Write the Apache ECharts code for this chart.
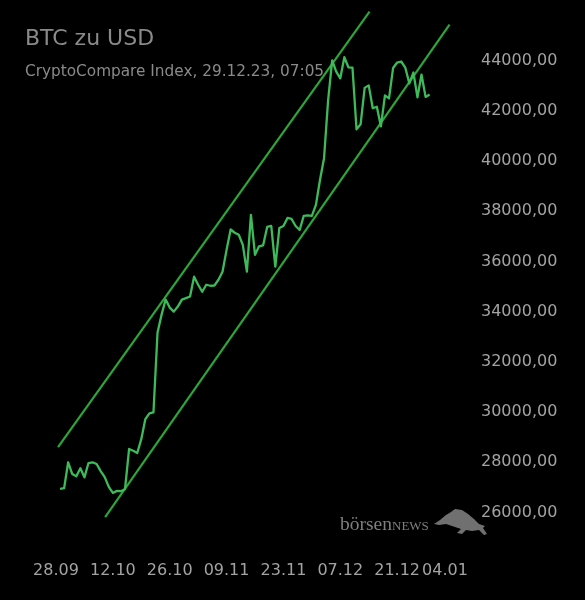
<!DOCTYPE html>
<html>
<head>
<meta charset="utf-8">
<script src="https://cdn.jsdelivr.net/npm/echarts@6/dist/echarts.min.js"></script>
<style>
  html, body { margin: 0; padding: 0; background: #000; }
  #chart { width: 585px; height: 600px; }
</style>
</head>
<body>
<div id="chart"></div>
<script>
// tick labels of the x axis (every 14 days from 28.09)
const xLabels = ['28.09', '12.10', '26.10', '09.11', '23.11', '07.12', '21.12', '04.01']

// daily closes, 29.09.23 .. 29.12.23 (day 1 .. 92 counted from 28.09)
const prices = [
  26940, 26970, 28000, 27530, 27440, 27760, 27400, 27970, 28000, 27930,
  27650, 27410, 27020, 26780, 26860, 26850, 26940, 28530, 28460, 28370,
  28920, 29720, 29950, 29990, 33170, 33880, 34480, 34160, 34000, 34200,
  34480, 34540, 34600, 35390, 35070, 34790, 35070, 35030, 35040, 35270,
  35590, 36460, 37270, 37140, 37060, 36660, 35590, 37850, 36260, 36600,
  36640, 37370, 37410, 35790, 37330, 37410, 37730, 37690, 37410, 37250,
  37810, 37830, 37810, 38250, 39240, 40110, 42410, 44000, 43560, 43290,
  44130, 43730, 43720, 41260, 41460, 42910, 43010, 42100, 42160, 41380,
  42610, 42490, 43700, 43920, 43960, 43720, 43090, 43520, 42530, 43440,
  42550, 42650
]

// trend channel, [day, value]
const upperChannel = [[0.5, 28600], [77.2, 45950]]
const lowerChannel = [[12.1, 25820], [96.9, 45430]]

const priceData = prices.map((v, i) => [i + 1, v])

const fontFamily = '"DejaVu Sans", sans-serif'
const chart = echarts.init(document.getElementById('chart'))

chart.setOption({
  backgroundColor: '#000',
  animation: false,
  title: [
    {
      text: 'BTC zu USD',
      left: 25,
      top: 28,
      padding: 0,
      textStyle: { color: '#8a8a8a', fontSize: 22, fontWeight: 'normal', fontFamily: fontFamily }
    },
    {
      text: 'CryptoCompare Index, 29.12.23, 07:05',
      left: 25,
      top: 65,
      padding: 0,
      textStyle: { color: '#8a8a8a', fontSize: 15.3, fontWeight: 'normal', fontFamily: fontFamily }
    }
  ],
  grid: {
    left: 56,
    right: 131,
    top: 60.5,
    bottom: 87.5
  },
  xAxis: {
    type: 'value',
    min: 0,
    max: 98,
    interval: 14,
    axisLine: { show: false },
    axisTick: { show: false },
    splitLine: { show: false },
    axisLabel: {
      color: '#a3a3a3',
      fontSize: 16,
      fontFamily: fontFamily,
      margin: 50,
      formatter: function (v) {
        const label = xLabels[Math.round(v / 14)]
        return v === 98 ? '{e|' + label + '}' : label
      },
      rich: {
        e: { color: '#a3a3a3', fontSize: 16, fontFamily: fontFamily, padding: [0, 18, 0, 0] }
      }
    }
  },
  yAxis: {
    type: 'value',
    position: 'right',
    min: 26000,
    max: 44000,
    interval: 2000,
    axisLine: { show: false },
    axisTick: { show: false },
    splitLine: { show: false },
    axisLabel: {
      color: '#a3a3a3',
      fontSize: 16,
      fontFamily: fontFamily,
      margin: 27,
      formatter: v => v + ',00'
    }
  },
  graphic: [
    {
      type: 'text',
      x: 340,
      y: 515,
      style: {
        text: '{a|börsen}{b|NEWS}',
        rich: {
          a: { fontFamily: '"Liberation Serif", serif', fontSize: 19.5, fill: '#7e7e7e' },
          b: { fontFamily: '"Liberation Serif", serif', fontSize: 13, fill: '#7e7e7e', padding: [4, 0, 0, 0] }
        }
      }
    },
    {
      type: 'polygon',
      shape: {
        points: [
          [434, 524], [440, 520], [446, 515], [451, 512], [455, 509], [462, 510],
          [468, 514], [474, 519], [479, 524], [485, 526], [483, 528], [487, 534],
          [484, 535], [479, 530], [472, 531], [466, 530], [462, 534], [457, 533],
          [461, 529], [455, 527], [446, 524], [439, 525]
        ]
      },
      style: { fill: '#707070' }
    }
  ],
  series: [
    {
      name: 'upper',
      type: 'line',
      data: upperChannel,
      symbol: 'none',
      clip: false,
      lineStyle: { color: '#2ca636', width: 2.2 }
    },
    {
      name: 'lower',
      type: 'line',
      data: lowerChannel,
      symbol: 'none',
      clip: false,
      lineStyle: { color: '#2ca636', width: 2.2 }
    },
    {
      name: 'BTC',
      type: 'line',
      data: priceData,
      symbol: 'none',
      clip: false,
      lineStyle: { color: '#3dbb5a', width: 2.3, join: 'round' }
    }
  ]
})
</script>
</body>
</html>
